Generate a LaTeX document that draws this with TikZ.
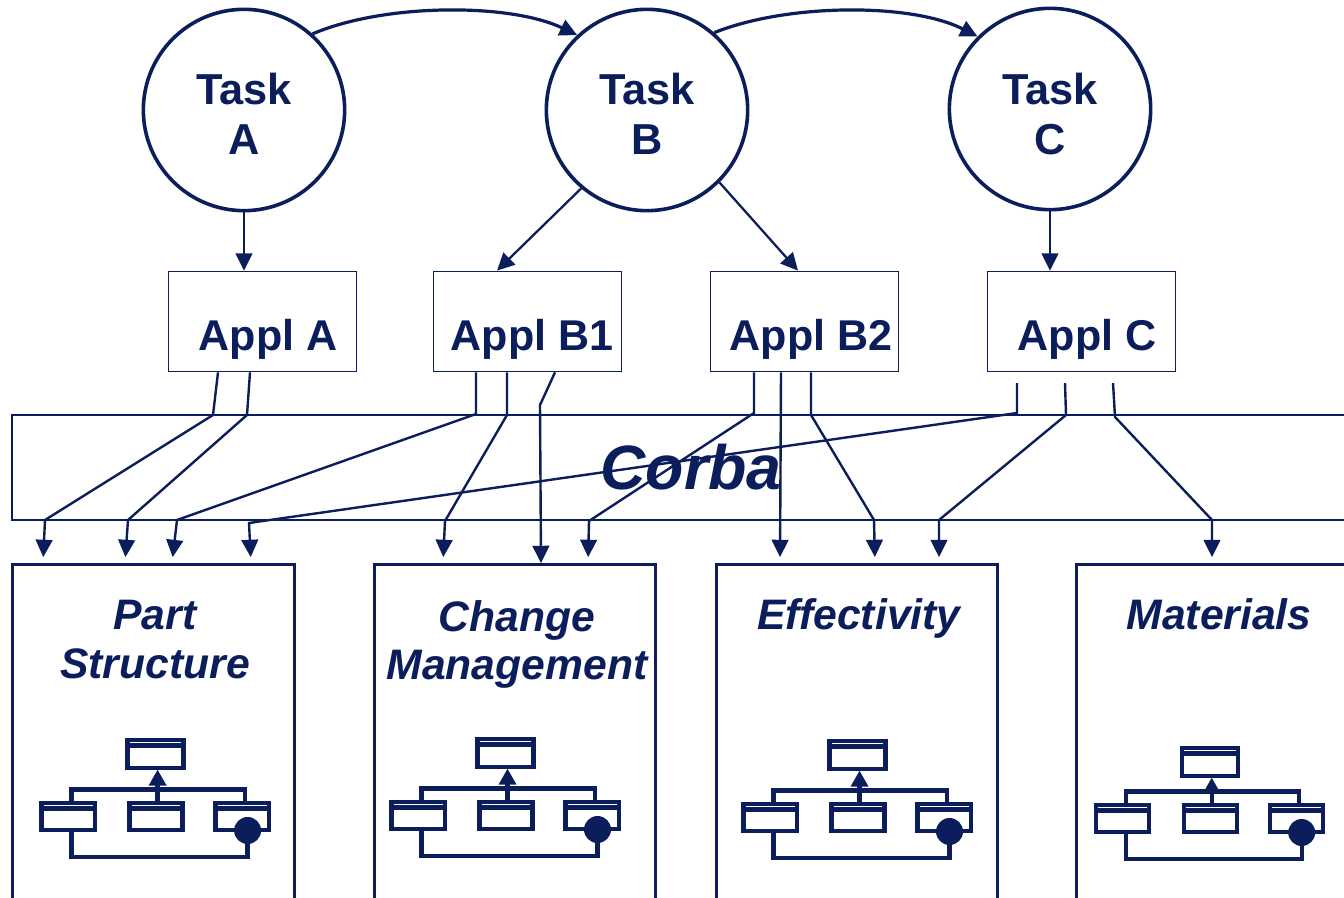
\documentclass[tikz,border=0pt]{standalone}
\usepackage{fontspec}
\setmainfont{Liberation Sans}
\usetikzlibrary{arrows.meta}
\definecolor{navy}{RGB}{11,30,91}
% #1 centre x, #2 reference y (top of top box when #3=0), #3 extra shift of the top box
\newcommand\umlicon[3]{%
\begin{scope}[shift={(#1,#2)}, line width=3.3pt, draw=navy, fill=navy]
 \draw (-28,2+#3) rectangle (28,30+#3);
 \draw (-28,7.5+#3) -- (28,7.5+#3);
 \foreach \a/\b in {-114/-60.5, -26/27, 60/113.5} {
   \draw (\a,65) rectangle (\b,92);
   \draw (\a,70.5) -- (\b,70.5);
 }
 \draw (-84,65) -- (-84,51.3) -- (89.3,51.3) -- (89.3,65);
 \draw[-{Triangle[length=12pt,width=12.5pt]}] (2,65) -- (2,31.5+#3);
 \draw (-84,92) -- (-84,118.7) -- (92,118.7) -- (92,100);
 \fill (92,92.5) circle[radius=13.5];
\end{scope}}
\begin{document}
\begin{tikzpicture}[x=0.75pt,y=-0.75pt,
  every node/.style={text=navy},
  task/.style={circle,draw=navy,line width=2.7pt,minimum size=151pt,inner sep=0pt},
  tasktxt/.style={font=\fontsize{32.5pt}{37.9pt}\selectfont\bfseries,align=center,inner sep=0pt,anchor=north},
  applbox/.style={rectangle,draw=navy,line width=1.3pt,minimum width=141pt,minimum height=75pt,inner sep=0pt},
  appltxt/.style={font=\fontsize{32.3pt}{36pt}\selectfont\bfseries,inner sep=0pt,anchor=base},
  bigbox/.style={rectangle,draw=navy,line width=2.1pt,inner sep=0pt},
  lbl/.style={font=\fontsize{32pt}{36.5pt}\selectfont\bfseries\itshape,align=center,inner sep=0pt},
  tarr/.style={draw=navy,line width=1.7pt,-{Triangle[length=13pt,width=12.5pt]}},
  carr/.style={draw=navy,line width=2.4pt,-{Triangle[length=13pt,width=12.5pt]}},
  conn/.style={draw=navy,line width=1.8pt,-{Triangle[length=13pt,width=12.5pt]}},
  gap/.style={shorten >=4.5pt}
]
\clip (0,0) rectangle (1344,898);
\fill[white] (0,0) rectangle (1344,898);

% Task circles
\node[task] (tA) at (244,110) {};
\node[task] (tB) at (647,110) {};
\node[task] (tC) at (1050,109) {};
\node[tasktxt] (tAt) at (244,72.5) {Task\\A};
\node[tasktxt] (tBt) at (647,72.5) {Task\\B};
\node[tasktxt] (tCt) at (1050,72.5) {Task\\C};

% Appl boxes
\node[applbox] (aA) at (262.5,321.5) {};
\node[applbox] (b1) at (527.5,321.5) {};
\node[applbox] (b2) at (804.5,321.5) {};
\node[applbox] (aC) at (1081.5,321.5) {};
\node[appltxt] (aAt) at (268,350) {Appl A};
\node[appltxt] (b1t) at (532,350) {Appl B1};
\node[appltxt] (b2t) at (811,350) {Appl B2};
\node[appltxt] (aCt) at (1087,350) {Appl C};

% Corba bar
\node[bigbox,minimum width=1018.5pt,minimum height=78.75pt,
      font=\fontsize{47pt}{50pt}\selectfont\bfseries\itshape] (corba) at (691,467.5) {Corba};

% Bottom boxes
\node[bigbox,minimum width=211pt,minimum height=270pt] (ps) at (153.5,744.5) {};
\node[bigbox,minimum width=211pt,minimum height=270pt] (cm) at (515,744.5) {};
\node[bigbox,minimum width=211pt,minimum height=270pt] (ef) at (857,744.5) {};
\node[bigbox,minimum width=211pt,minimum height=270pt] (ma) at (1217,744.5) {};
\node[lbl,anchor=north] (psl) at (155,600) {Part\\Structure};
\node[lbl,anchor=north] (cml) at (517,600) {Change\\Management};
\node[lbl,anchor=base] (efl) at (859,629) {Effectivity};
\node[lbl,anchor=base] (mal) at (1219,629) {Materials};

% icons
\umlicon{155.6}{738}{0}
\umlicon{505.5}{737}{0}
\umlicon{857.5}{739}{0}
\umlicon{1209.7}{740}{6}

% Task flow
\draw[carr] (tA.48) .. controls (385,3) and (510,3) .. (tB.133);
\draw[carr] (tB.49) .. controls (788,3) and (912,3) .. (tC.135);
\draw[tarr] (tA.south) -- (tA.south |- aA.north);
\draw[tarr] (tB.230) -- (497,0 |- b1.north);
\draw[tarr] (tB.-45) -- (798,0 |- b2.north);
\draw[tarr] (tC.south) -- (tC.south |- aC.north);

% Appl -> Corba -> components
\draw[conn,gap] (218,0 |- aA.south) -- (213,415) -- (45,520) -- (43,0 |- ps.north);
\draw[conn,gap] (250,0 |- aA.south) -- (247,415) -- (128,520) -- (125,0 |- ps.north);
\draw[conn,gap] (476,0 |- b1.south) -- (476,414) -- (177,520) -- (172,0 |- ps.north);
\draw[conn,gap] (507,0 |- b1.south) -- (507,415) -- (445,521) -- (443,0 |- cm.north);
\draw[conn] (555,0 |- b1.south) -- (540,405) -- (541,0 |- cm.north);
\draw[conn,gap] (754,0 |- b2.south) -- (754,413) -- (589,521) -- (588,0 |- cm.north);
\draw[conn,gap] (781,0 |- b2.south) -- (780,0 |- ef.north);
\draw[conn,gap] (811,0 |- b2.south) -- (811,415) -- (874,520) -- (875,0 |- ef.north);
\coordinate (c1) at (1017,383);
\coordinate (c2) at (1065,383);
\coordinate (c3) at (1113,383);
\draw[conn,gap] (c1) -- (1017,413) -- (249,523) -- (251,0 |- ps.north);
\draw[conn,gap] (c2) -- (1066,415) -- (939,520) -- (939,0 |- ef.north);
\draw[conn,gap] (c3) -- (1115,417) -- (1212,520) -- (1212,0 |- ma.north);
\end{tikzpicture}
\end{document}
